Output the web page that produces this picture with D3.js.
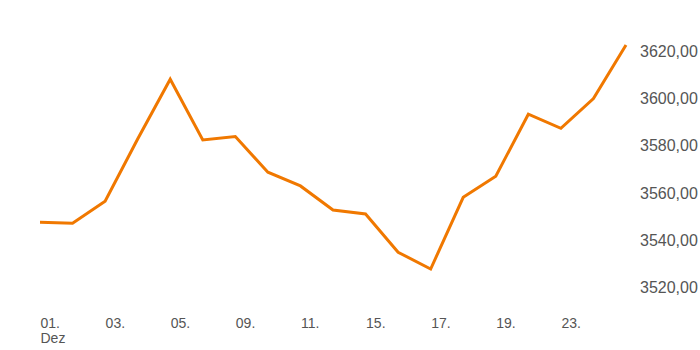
<!DOCTYPE html>
<html>
<head>
<meta charset="utf-8">
<script src="https://cdn.jsdelivr.net/npm/d3@7"></script>
<style>
  html, body { margin: 0; padding: 0; background: #fff; }
  svg { display: block; }
</style>
</head>
<body>
<svg id="chart" width="700" height="350"></svg>
<script>
// Trading days in December and closing values
const days = ["01", "02", "03", "04", "05", "08", "09", "10", "11", "12",
              "15", "16", "17", "18", "19", "22", "23", "24", "29"];
const values = [3547.3, 3546.9, 3556.2, 3582.6, 3607.9, 3582.2, 3583.6, 3568.5, 3562.7, 3552.5,
                3550.8, 3534.6, 3527.5, 3557.9, 3566.8, 3593.1, 3587.1, 3599.7, 3622.4];
const xTickDays = ["01", "03", "05", "09", "11", "15", "17", "19", "23"];
const monthLabel = "Dez";
const yTicks = [3520, 3540, 3560, 3580, 3600, 3620];

const svg = d3.select("#chart");

const x = d3.scalePoint().domain(days).range([40, 626]);
const y = d3.scaleLinear().domain([3520, 3620]).range([286.7, 50.7]);

const fmt = v => d3.format(".2f")(v).replace(".", ",");

// Right-hand value axis
const yAxis = svg.append("g")
  .attr("transform", "translate(626,0)")
  .call(d3.axisRight(y).tickValues(yTicks).tickSize(0).tickPadding(14).tickFormat(fmt));
yAxis.select(".domain").remove();
yAxis.selectAll("text")
  .attr("fill", "#555")
  .attr("font-family", "'Liberation Sans', Arial, sans-serif")
  .attr("font-size", "16px")
  .attr("dy", "0.36em");

// Bottom date axis, labels left-aligned on their ticks
const xAxis = svg.append("g")
  .attr("transform", "translate(0,318)")
  .call(d3.axisBottom(x).tickValues(xTickDays).tickSize(0).tickPadding(0).tickFormat(d => d + "."));
xAxis.select(".domain").remove();
xAxis.selectAll("text")
  .attr("fill", "#555")
  .attr("font-family", "'Liberation Sans Narrow', 'Arial Narrow', sans-serif")
  .attr("font-size", "14px")
  .attr("text-anchor", "start")
  .attr("y", 0)
  .attr("dy", "0.72em");
xAxis.select(".tick text")
  .append("tspan")
  .attr("x", 0)
  .attr("dy", "1.05em")
  .text(monthLabel);

// Price line
const line = d3.line()
  .x((d, i) => x(days[i]))
  .y(d => y(d));

svg.append("path")
  .datum(values)
  .attr("fill", "none")
  .attr("stroke", "#f07800")
  .attr("stroke-width", 3)
  .attr("stroke-linejoin", "miter")
  .attr("d", line);
</script>
</body>
</html>
